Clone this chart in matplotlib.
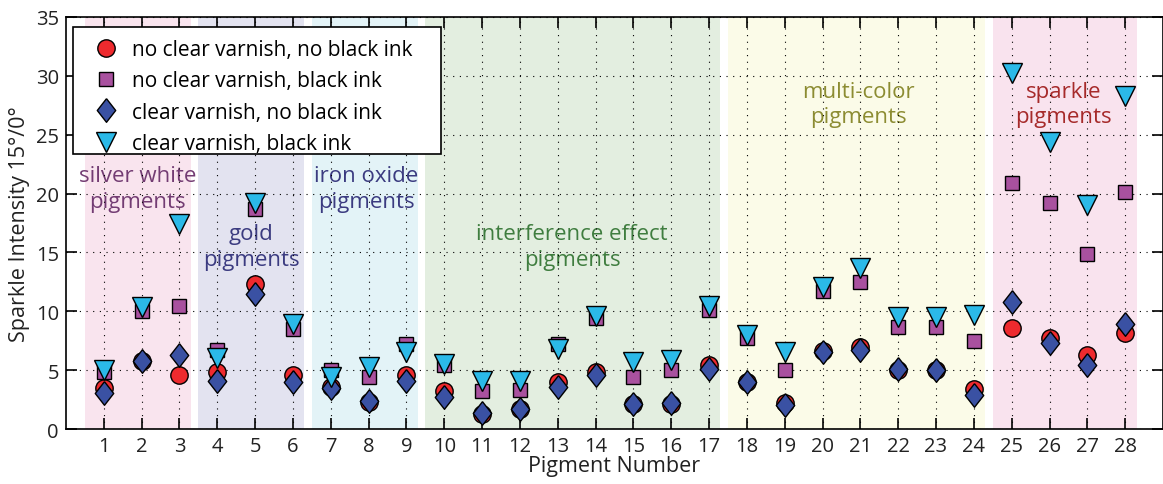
import matplotlib
matplotlib.use("Agg")
import matplotlib.pyplot as plt
from matplotlib.patches import Rectangle
import numpy as np

plt.rcParams['font.family'] = ['Open Sans', 'DejaVu Sans']

pigments = list(range(1, 29))
no_varnish_no_ink = [3.5, 5.8, 4.55, 4.8, 12.3, 4.55, 3.55, 2.3, 4.55, 3.2, 1.3, 1.7, 4.0, 4.8,
                     2.1, 2.1, 5.4, 4.0, 2.2, 6.6, 6.95, 5.0, 5.0, 3.4, 8.6, 7.7, 6.25, 8.15]
no_varnish_ink = [4.8, 10.0, 10.45, 6.75, 18.7, 8.5, 5.05, 4.45, 7.2, 5.4, 3.2, 3.35, 7.25, 9.4,
                  4.4, 5.0, 10.1, 7.7, 5.0, 11.75, 12.5, 8.7, 8.7, 7.45, 20.9, 19.2, 14.9, 20.1]
varnish_no_ink = [3.1, 5.75, 6.3, 4.1, 11.5, 4.0, 3.45, 2.4, 4.1, 2.7, 1.4, 1.7, 3.55, 4.55,
                  2.1, 2.25, 5.1, 4.0, 2.05, 6.5, 6.7, 5.1, 5.05, 2.85, 10.8, 7.3, 5.45, 8.95]
varnish_ink = [5.0, 10.4, 17.4, 6.0, 19.2, 8.95, 4.4, 5.25, 6.55, 5.5, 4.1, 4.1, 6.8, 9.6,
               5.7, 5.9, 10.45, 8.0, 6.5, 12.05, 13.7, 9.5, 9.5, 9.7, 30.2, 24.4, 19.0, 28.3]

series_labels = ['no clear varnish, no black ink', 'no clear varnish, black ink',
                 'clear varnish, no black ink', 'clear varnish, black ink']

groups = [(1, 3, 'silver white\npigments'), (4, 6, 'gold\npigments'), (7, 9, 'iron oxide\npigments'),
          (10, 17, 'interference effect\npigments'), (18, 24, 'multi-color\npigments'),
          (25, 28, 'sparkle\npigments')]
band_colors = ['#f9e4ee', '#e3e3f0', '#e3f3f7', '#e3eee0', '#fbfbe8', '#f9e3ee']
text_colors = ['#733c73', '#3b3b80', '#3b3b80', '#3f7d3f', '#8c8c32', '#a62a2a']
text_pos = [(1.9, 20.45), (4.9, 15.5), (7.94, 20.45), (13.38, 15.5), (20.95, 27.6), (26.36, 27.6)]

fig = plt.figure(figsize=(11.63, 4.85), dpi=100)
ax = fig.add_axes([0.0567, 0.1134, 0.9433, 0.8496])

for (a, b, lab), bc, tc, (tx, ty) in zip(groups, band_colors, text_colors, text_pos):
    ax.axvspan(a - 0.5, b + 0.3, color=bc, zorder=0, lw=0)
    ax.text(tx, ty, lab, color=tc, fontsize=16, ha='center', va='center',
            linespacing=1.3, zorder=1)

ax.set_axisbelow(False)
ax.grid(True, color='black', linestyle=(0, (1, 5)), linewidth=0.8, zorder=1.5)

diamond = [(0, 1), (0.78, 0), (0, -1), (-0.78, 0), (0, 1)]
kw = dict(linestyle='none', markeredgecolor='black', markeredgewidth=1.0, zorder=3)
ax.plot(pigments, no_varnish_no_ink, marker='o', markersize=12.5, markerfacecolor='#ee2a2e',
        label=series_labels[0], **kw)
ax.plot(pigments, no_varnish_ink, marker='s', markersize=10, markerfacecolor='#a9519f',
        label=series_labels[1], **kw)
ax.plot(pigments, varnish_no_ink, marker=diamond, markersize=17, markerfacecolor='#3a51a3',
        label=series_labels[2], **kw)
ax.plot(pigments, varnish_ink, marker='v', markersize=14, markerfacecolor='#2bb9e8',
        label=series_labels[3], **kw)

ax.set_xlim(0, 29)
ax.set_ylim(0, 35)
ax.set_xticks(pigments)
ax.set_yticks(np.arange(0, 36, 5))
ax.tick_params(direction='in', length=8, width=1.2, labelsize=14.5, top=True, right=True,
               colors='black', labelcolor='#222222')
ax.tick_params(axis='x', pad=5)
ax.tick_params(axis='y', pad=5)
for s in ax.spines.values():
    s.set_linewidth(1.2)
ax.set_xlabel('Pigment Number', fontsize=15.5, labelpad=-1, color='#222222')
ax.set_ylabel('Sparkle Intensity 15°/0°', fontsize=15.5, labelpad=4, color='#222222')

# legend box (frame drawn separately to match its proportions)
ax.add_patch(Rectangle((0.0064, 0.667), 0.3355, 0.309, transform=ax.transAxes,
                       facecolor='white', edgecolor='black', linewidth=1.2, zorder=4))
leg = ax.legend(loc='upper left', bbox_to_anchor=(0.0095, 0.972), fontsize=15, frameon=False,
                borderpad=0.3, labelspacing=0.5, handletextpad=0.38, handlelength=1.8,
                borderaxespad=0.2)
leg.set_zorder(5)

fig.savefig('out.png', dpi=100)
